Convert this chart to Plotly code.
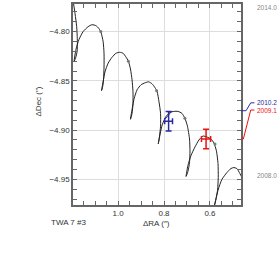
import plotly.graph_objects as go

# Astrometric track (ΔRA, ΔDec in arcsec)
track_ra = [1.194, 1.187, 1.180, 1.177, 1.178, 1.185, 1.191, 1.183, 1.170, 1.152,
            1.130, 1.113, 1.096, 1.083, 1.074, 1.065, 1.061, 1.061, 1.063, 1.067,
            1.072, 1.065, 1.057, 1.043, 1.026, 1.009, 0.993, 0.978, 0.965, 0.955,
            0.946, 0.939, 0.935, 0.935, 0.939, 0.946, 0.939, 0.930, 0.917, 0.900,
            0.883, 0.867, 0.852, 0.839, 0.830, 0.822, 0.815, 0.815, 0.820, 0.825,
            0.817, 0.807, 0.791, 0.774, 0.757, 0.739, 0.722, 0.709, 0.698, 0.689,
            0.687, 0.689, 0.696, 0.704, 0.696, 0.683, 0.665, 0.648, 0.630, 0.613,
            0.596, 0.583, 0.572, 0.565, 0.564, 0.567, 0.574, 0.580, 0.585, 0.578,
            0.565, 0.548, 0.526, 0.509, 0.496, 0.483, 0.470, 0.457]
track_dec = [-4.771, -4.782, -4.795, -4.810, -4.820, -4.827, -4.830, -4.818, -4.808, -4.800,
             -4.795, -4.793, -4.794, -4.797, -4.801, -4.810, -4.822, -4.836, -4.848, -4.856,
             -4.860, -4.851, -4.841, -4.832, -4.826, -4.822, -4.821, -4.822, -4.826, -4.830,
             -4.838, -4.849, -4.861, -4.873, -4.883, -4.889, -4.879, -4.868, -4.859, -4.854,
             -4.852, -4.851, -4.853, -4.857, -4.861, -4.871, -4.883, -4.896, -4.907, -4.914,
             -4.904, -4.894, -4.886, -4.882, -4.881, -4.881, -4.883, -4.888, -4.896, -4.909,
             -4.921, -4.933, -4.942, -4.947, -4.936, -4.926, -4.917, -4.910, -4.906, -4.907,
             -4.909, -4.913, -4.921, -4.934, -4.948, -4.961, -4.970, -4.976, -4.980, -4.974,
             -4.961, -4.950, -4.943, -4.939, -4.938, -4.939, -4.944, -4.950]

# Epoch dots along the track
dot_ra = [1.075, 0.955, 0.832, 0.709, 0.578]
dot_dec = [-4.800, -4.830, -4.860, -4.888, -4.914]

# Measurements
epochs = ["2010.2", "2009.1"]
meas_ra = [0.780, 0.617]
meas_dec = [-4.891, -4.909]
meas_ra_err = [0.017, 0.020]
meas_dec_err = [0.010, 0.010]
meas_colors = ["#2a2aa0", "#ee1111"]

# Residual slash for the blue point
blue_res_ra = [0.796, 0.767]
blue_res_dec = [-4.889, -4.881]

# Right-hand epoch labels (Dec positions of the leader lines / labels)
conn_start_dec = [-4.8803, -4.9090]
label_dec = [-4.8723, -4.8796]
end_labels = ["2014.0", "2008.0"]
end_label_dec = [-4.7752, -4.9460]

x_range = [1.196, 0.465]
y_range = [-4.976, -4.772]

fig = go.Figure()
fig.add_trace(go.Scatter(x=track_ra, y=track_dec, mode="lines",
                         line=dict(color="#222222", width=1, shape="spline", smoothing=0.6),
                         hoverinfo="skip"))
fig.add_trace(go.Scatter(x=dot_ra, y=dot_dec, mode="markers",
                         marker=dict(color="#777777", size=3)))
fig.add_trace(go.Scatter(x=blue_res_ra, y=blue_res_dec, mode="lines",
                         line=dict(color=meas_colors[0], width=1)))
for i in range(len(epochs)):
    fig.add_trace(go.Scatter(
        x=[meas_ra[i]], y=[meas_dec[i]], mode="markers",
        marker=dict(color=meas_colors[i], size=1),
        error_x=dict(type="constant", value=meas_ra_err[i], color=meas_colors[i], thickness=1.5, width=3),
        error_y=dict(type="constant", value=meas_dec_err[i], color=meas_colors[i], thickness=1.5, width=3)))

x_off = [1.030, 1.014]
x_mid = [1.058, 1.058]
for i in range(len(epochs)):
    fig.add_shape(type="path", xref="paper", yref="y",
                  path=f"M 1.0,{conn_start_dec[i]} L {x_off[i]},{conn_start_dec[i]} "
                       f"L {x_mid[i]},{label_dec[i]} L 1.080,{label_dec[i]}",
                  line=dict(color=meas_colors[i], width=1))
    fig.add_annotation(x=1.085, xref="paper", y=label_dec[i], yref="y", text=epochs[i],
                       showarrow=False, xanchor="left", yanchor="middle",
                       font=dict(size=6.5, color=meas_colors[i], family="Liberation Sans"))
for lab, d in zip(end_labels, end_label_dec):
    fig.add_annotation(x=1.085, xref="paper", y=d, yref="y", text=lab,
                       showarrow=False, xanchor="left", yanchor="middle",
                       font=dict(size=6.5, color="#888888", family="Liberation Sans"))

fig.add_annotation(x=0.498, xref="paper", y=-0.093, yref="paper", text="ΔRA (″)",
                   showarrow=False, xanchor="center", yanchor="middle",
                   font=dict(size=8, color="#333333"))
fig.add_annotation(x=-0.143, xref="paper", y=-0.089, yref="paper", text="TWA 7 #3",
                   showarrow=False, xanchor="left", yanchor="middle",
                   font=dict(size=8, color="#333333"))
fig.add_annotation(x=-0.206, xref="paper", y=0.517, yref="paper", text="ΔDec (″)",
                   showarrow=False, textangle=-90, xanchor="center", yanchor="middle",
                   font=dict(size=8, color="#333333"))

axis_common = dict(showline=True, linecolor="#666666", linewidth=1.5, mirror="ticks",
                   ticks="inside", ticklen=4, tickcolor="#666666", showgrid=True,
                   gridcolor="#dddddd", gridwidth=1, zeroline=False,
                   tickfont=dict(size=8, color="#333333", family="Liberation Sans"))
fig.update_xaxes(range=x_range, tick0=0.6, dtick=0.2, tickformat=".1f",
                 minor=dict(dtick=0.05, tick0=0.6, ticks="inside", ticklen=4, tickcolor="#666666", showgrid=False),
                 **axis_common)
fig.update_yaxes(range=y_range, tick0=-4.8, dtick=0.05, tickformat=".2f",
                 minor=dict(dtick=0.01, tick0=-4.8, ticks="inside", ticklen=4, tickcolor="#666666", showgrid=False),
                 **axis_common)
fig.update_layout(width=277, height=270, margin=dict(l=73, r=36, t=2, b=65),
                  plot_bgcolor="white", paper_bgcolor="white", showlegend=False,
                  font=dict(family="Liberation Sans"))
fig.write_html("out.html", config={"displayModeBar": False},
               post_script="document.body.style.margin='0px';document.body.style.overflow='hidden';"
                           "document.documentElement.style.overflow='hidden';")
